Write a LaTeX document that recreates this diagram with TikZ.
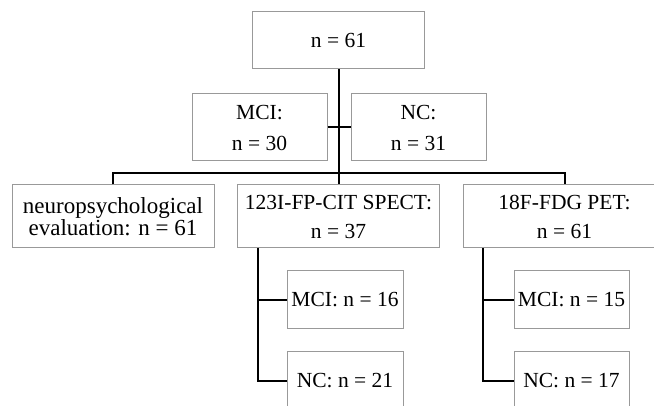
\documentclass[tikz,border=0pt]{standalone}
\usepackage{fontspec}
\setmainfont{Liberation Serif}
\usetikzlibrary{calc}

\begin{document}
\begin{tikzpicture}[x=1pt,y=-1pt,
  box/.style={draw=black!40,line width=1pt,inner sep=0pt,align=center,
    font=\fontsize{21.5}{29}\selectfont},
  link/.style={draw=black,line width=2pt}]
\def\bw{202}
\def\bh{63}
\useasboundingbox (0,0) rectangle (654,406);

\node[box,minimum width=172pt,minimum height=57pt] (all) at (338.5,40.5) {n = 61};
\node[box,minimum width=135pt,minimum height=67pt,font=\fontsize{21.5}{31}\selectfont] (mci) at (259.5,127.5) {MCI:\\n = 30};
\node[box,minimum width=135pt,minimum height=67pt,font=\fontsize{21.5}{31}\selectfont] (nc) at (418.5,127.5) {NC:\\n = 31};

\node[box,minimum width=\bw pt,minimum height=\bh pt,font=\fontsize{23}{22}\selectfont] (neuro) at (113,216.5) {neuropsychological\\evaluation: n = 61};
\node[box,minimum width=\bw pt,minimum height=\bh pt] (spect) at (338.5,216.5) {123I-FP-CIT SPECT:\\n = 37};
\node[box,minimum width=\bw pt,minimum height=\bh pt] (pet) at (564.5,216.5) {18F-FDG PET:\\n = 61};

\node[box,minimum width=116pt,minimum height=58pt] (spectmci) at (345,300) {MCI: n = 16};
\node[box,minimum width=116pt,minimum height=58pt] (spectnc) at (345,381) {NC: n = 21};
\node[box,minimum width=115pt,minimum height=58pt] (petmci) at (571.5,300) {MCI: n = 15};
\node[box,minimum width=115pt,minimum height=58pt] (petnc) at (571.5,381) {NC: n = 17};

\coordinate (bar) at (338.5,173);
\coordinate (spectleg) at (258,248);
\coordinate (petleg) at (483,248);

\draw[link] (all.south) -- (spect.north);
\draw[link] (mci.east) -- (nc.west);
\draw[link] (neuro.north) |- (bar) -| (pet.north);

\draw[link] (spectleg) |- (spectnc.west);
\draw[link] (spectleg |- spectmci.west) -- (spectmci.west);
\draw[link] (petleg) |- (petnc.west);
\draw[link] (petleg |- petmci.west) -- (petmci.west);
\end{tikzpicture}
\end{document}
